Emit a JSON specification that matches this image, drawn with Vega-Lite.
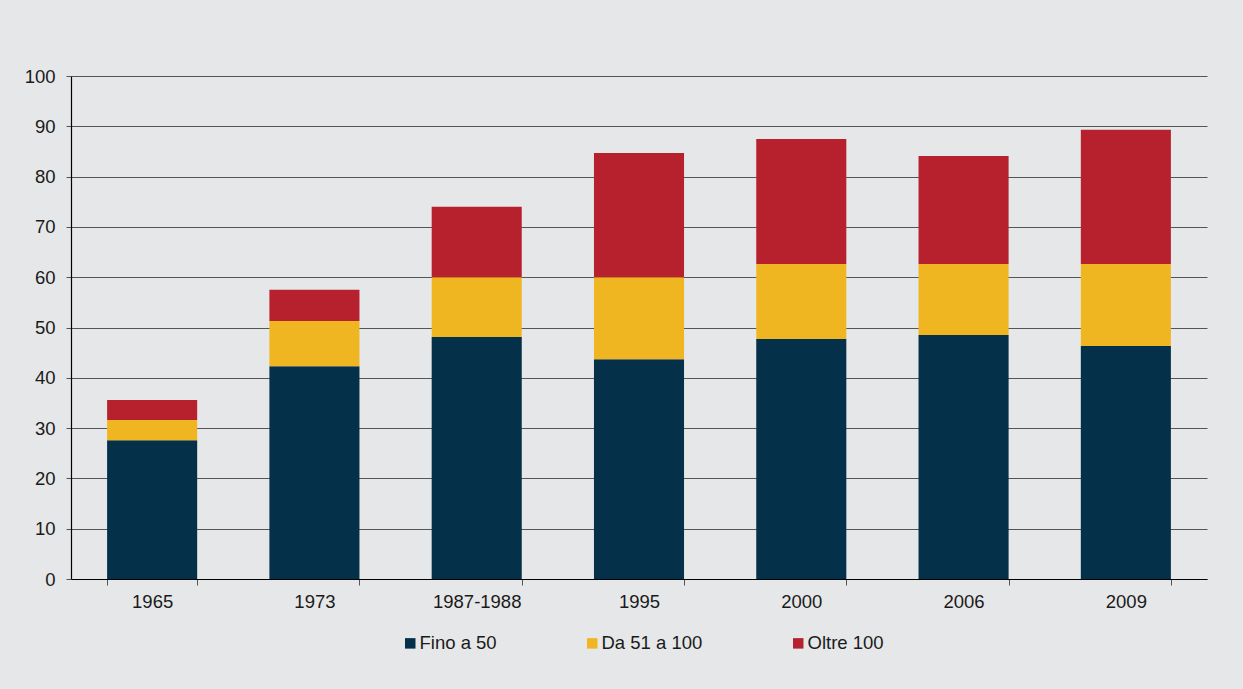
{
  "$schema": "https://vega.github.io/schema/vega-lite/v6.json",
  "width": 1136,
  "height": 503,
  "autosize": {"type": "none"},
  "padding": {"left": 71, "top": 76, "right": 36, "bottom": 110},
  "background": "#e6e7e8",
  "config": {
    "view": {"stroke": null},
    "font": "Liberation Sans",
    "axis": {"labelFont": "Liberation Sans", "labelFontSize": 18.5, "labelColor": "#1a1a1a", "titleFont": "Liberation Sans"},
    "legend": {"labelFont": "Liberation Sans", "labelFontSize": 18.5, "labelColor": "#1a1a1a"}
  },
  "data": {
    "values": [
      {"anno": "1965", "classe": "Fino a 50", "ord": 1, "valore": 27.6},
      {"anno": "1965", "classe": "Da 51 a 100", "ord": 2, "valore": 4.0},
      {"anno": "1965", "classe": "Oltre 100", "ord": 3, "valore": 4.0},
      {"anno": "1973", "classe": "Fino a 50", "ord": 1, "valore": 42.3},
      {"anno": "1973", "classe": "Da 51 a 100", "ord": 2, "valore": 9.0},
      {"anno": "1973", "classe": "Oltre 100", "ord": 3, "valore": 6.2},
      {"anno": "1987-1988", "classe": "Fino a 50", "ord": 1, "valore": 48.1},
      {"anno": "1987-1988", "classe": "Da 51 a 100", "ord": 2, "valore": 11.9},
      {"anno": "1987-1988", "classe": "Oltre 100", "ord": 3, "valore": 14.0},
      {"anno": "1995", "classe": "Fino a 50", "ord": 1, "valore": 43.7},
      {"anno": "1995", "classe": "Da 51 a 100", "ord": 2, "valore": 16.3},
      {"anno": "1995", "classe": "Oltre 100", "ord": 3, "valore": 24.7},
      {"anno": "2000", "classe": "Fino a 50", "ord": 1, "valore": 47.7},
      {"anno": "2000", "classe": "Da 51 a 100", "ord": 2, "valore": 14.9},
      {"anno": "2000", "classe": "Oltre 100", "ord": 3, "valore": 24.9},
      {"anno": "2006", "classe": "Fino a 50", "ord": 1, "valore": 48.5},
      {"anno": "2006", "classe": "Da 51 a 100", "ord": 2, "valore": 14.1},
      {"anno": "2006", "classe": "Oltre 100", "ord": 3, "valore": 21.5},
      {"anno": "2009", "classe": "Fino a 50", "ord": 1, "valore": 46.3},
      {"anno": "2009", "classe": "Da 51 a 100", "ord": 2, "valore": 16.3},
      {"anno": "2009", "classe": "Oltre 100", "ord": 3, "valore": 26.7}
    ]
  },
  "mark": {"type": "bar"},
  "encoding": {
    "x": {
      "field": "anno", "type": "nominal", "sort": null, "title": null,
      "scale": {"paddingInner": 0.445, "paddingOuter": 0.2225},
      "axis": {"labelAngle": 0, "tickBand": "extent", "domainColor": "#000000", "domainWidth": 1.2, "tickColor": "#555555", "tickSize": 6, "labelPadding": 7, "grid": false}
    },
    "y": {
      "field": "valore", "type": "quantitative", "stack": "zero", "title": null,
      "scale": {"domain": [0, 100], "nice": false},
      "axis": {"values": [0, 10, 20, 30, 40, 50, 60, 70, 80, 90, 100], "domainColor": "#000000", "domainWidth": 1.2, "tickColor": "#555555", "tickSize": 5, "labelPadding": 11, "grid": true, "gridColor": "#555555", "gridWidth": 1, "gridOpacity": 1}
    },
    "color": {
      "field": "classe", "type": "nominal", "title": null,
      "scale": {"domain": ["Fino a 50", "Da 51 a 100", "Oltre 100"], "range": ["#04304a", "#f0b622", "#b7212e"]},
      "legend": {"orient": "none", "legendX": 330, "legendY": 558, "direction": "horizontal", "symbolType": "square", "symbolSize": 110, "symbolStrokeWidth": 0, "symbolOpacity": 1, "labelOffset": 0, "columnPadding": 86}
    },
    "order": {"field": "ord", "type": "quantitative"}
  }
}
